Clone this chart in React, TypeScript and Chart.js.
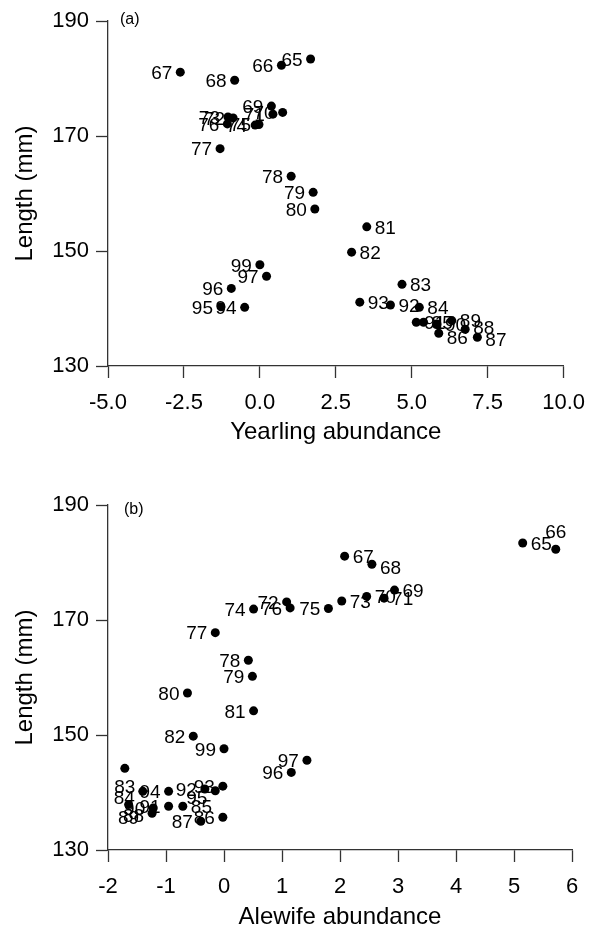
import React, { useEffect, useRef } from "react";
import { Chart, registerables } from "chart.js";

Chart.register(...registerables);

// ---- data (years 1965–1999, 1998 absent) ----
const years = [65, 66, 67, 68, 69, 70, 71, 72, 73, 74, 75, 76, 77, 78, 79, 80, 81, 82, 83, 84, 85, 86, 87, 88, 89, 90, 91, 92, 93, 94, 95, 96, 97, 99];

const yearlingAbundance = [1.67, 0.71, -2.62, -0.83, 0.38, 0.75, 0.43, -0.88, -1.05, -0.155, -0.03, -1.07, -1.31, 1.03, 1.755, 1.81, 3.52, 3.02, 4.68, 5.25, 5.39, 5.89, 7.16, 6.76, 6.32, 5.83, 5.15, 4.3, 3.29, -0.5, -1.28, -0.94, 0.22, 0.0];

const alewifeAbundance = [5.15, 5.72, 2.08, 2.55, 2.94, 2.46, 2.76, 1.08, 2.03, 0.51, 1.8, 1.14, -0.15, 0.42, 0.49, -0.63, 0.51, -0.53, -1.71, -1.4, -0.71, -0.02, -0.4, -1.24, -1.645, -1.22, -0.955, -0.33, -0.02, -0.955, -0.15, 1.16, 1.43, 0.0];

const lengthMm = [183.4, 182.3, 181.1, 179.7, 175.2, 174.1, 173.8, 173.15, 173.3, 171.9, 172.0, 172.1, 167.8, 163.0, 160.2, 157.3, 154.2, 149.8, 144.2, 140.2, 137.6, 135.7, 135.0, 136.4, 137.9, 137.3, 137.6, 140.6, 141.1, 140.2, 140.3, 143.5, 145.6, 147.6];

const yTicks = [130, 150, 170, 190];
const yTickLabels = ["130", "150", "170", "190"];
const xTicksA = [-5, -2.5, 0, 2.5, 5, 7.5, 10];
const xTickLabelsA = ["-5.0", "-2.5", "0.0", "2.5", "5.0", "7.5", "10.0"];
const xTicksB = [-2, -1, 0, 1, 2, 3, 4, 5, 6];
const xTickLabelsB = ["-2", "-1", "0", "1", "2", "3", "4", "5", "6"];

// ---- label placement (layout only) ----
const rightA = [81, 82, 83, 84, 85, 86, 87, 88, 89, 90, 91, 92, 93];
const dyA: Record<number, number> = { 86: 4, 87: 2, 88: -2 };
const rightB = [65, 67, 68, 69, 70, 71, 73, 85];
const belowB: Record<number, number> = { 83: 19, 89: 14 };
const aboveB: Record<number, number> = { 66: -17 };
const dyB: Record<number, number> = { 84: 6, 95: 6, 88: 2, 68: 3 };

const FONT = '"Liberation Sans", Arial, Helvetica, sans-serif';
const AXIS = "#333";

type Place = { side: "l" | "r" | "c"; dy: number };

function makeLabelPlugin(places: Place[], panel: string, pdx: number, pdy: number) {
  return {
    id: "pointLabels",
    afterDatasetsDraw(chart: any) {
      const ctx = chart.ctx;
      const meta = chart.getDatasetMeta(0);
      ctx.save();
      ctx.font = `19px ${FONT}`;
      ctx.fillStyle = "#000";
      ctx.textBaseline = "middle";
      meta.data.forEach((pt: any, i: number) => {
        const p = places[i];
        let x = pt.x;
        if (p.side === "l") {
          ctx.textAlign = "right";
          x -= 8;
        } else if (p.side === "r") {
          ctx.textAlign = "left";
          x += 8;
        } else {
          ctx.textAlign = "center";
        }
        ctx.fillText(String(years[i]), x, pt.y + p.dy);
      });
      ctx.font = `16px ${FONT}`;
      ctx.textAlign = "left";
      ctx.fillText(panel, chart.chartArea.left + pdx, chart.chartArea.top + pdy);
      ctx.restore();
    },
  };
}

function buildChart(
  canvas: HTMLCanvasElement,
  xs: number[],
  xTicks: number[],
  xTickLabels: string[],
  xTitle: string,
  topPad: number,
  xHeight: number,
  xTitlePad: number,
  places: Place[],
  panel: string,
  pdx: number,
  pdy: number
) {
  const pts = xs.map((x, i) => ({ x, y: lengthMm[i] }));
  return new Chart(canvas, {
    type: "scatter",
    data: {
      datasets: [
        {
          data: pts,
          pointRadius: 4.5,
          pointBackgroundColor: "#000",
          pointBorderWidth: 0,
          showLine: false,
        },
      ],
    },
    options: {
      responsive: false,
      animation: false,
      devicePixelRatio: 1,
      layout: { padding: { left: 0, right: 25, top: topPad, bottom: 0 } },
      plugins: { legend: { display: false }, tooltip: { enabled: false } },
      scales: {
        x: {
          type: "linear",
          min: xTicks[0],
          max: xTicks[xTicks.length - 1],
          afterBuildTicks: (s: any) => {
            s.ticks = xTicks.map((v) => ({ value: v }));
          },
          ticks: {
            callback: (_v: any, i: number) => xTickLabels[i],
            font: { size: 22, family: FONT },
            color: "#000",
            padding: 12,
            maxRotation: 0,
            autoSkip: false,
          },
          grid: { display: true, drawOnChartArea: false, drawTicks: true, tickLength: 12, tickWidth: 1.3, color: AXIS },
          border: { display: true, color: AXIS, width: 1.3 },
          title: { display: true, text: xTitle, font: { size: 24, family: FONT }, color: "#000", padding: { top: 0, bottom: xTitlePad } },
          afterFit: (s: any) => {
            s.height = xHeight;
          },
        },
        y: {
          type: "linear",
          min: 130,
          max: 190,
          afterBuildTicks: (s: any) => {
            s.ticks = yTicks.map((v) => ({ value: v }));
          },
          ticks: {
            callback: (_v: any, i: number) => yTickLabels[i],
            font: { size: 22, family: FONT },
            color: "#000",
            padding: 7,
            autoSkip: false,
          },
          grid: { display: true, drawOnChartArea: false, drawTicks: true, tickLength: 12, tickWidth: 1.3, color: AXIS },
          border: { display: true, color: AXIS, width: 1.3 },
          title: { display: true, text: "Length (mm)", font: { size: 24, family: FONT }, color: "#000", padding: { top: 10.5, bottom: 0 } },
          afterFit: (s: any) => {
            s.width = 108;
          },
        },
      },
    },
    plugins: [makeLabelPlugin(places, panel, pdx, pdy)],
  } as any);
}

export default function App() {
  const refA = useRef<HTMLCanvasElement>(null);
  const refB = useRef<HTMLCanvasElement>(null);

  useEffect(() => {
    const placesA: Place[] = years.map((y) => ({
      side: rightA.includes(y) ? "r" : "l",
      dy: 1.5 + (dyA[y] || 0),
    }));
    const placesB: Place[] = years.map((y) => {
      if (belowB[y] !== undefined) return { side: "c", dy: belowB[y] };
      if (aboveB[y] !== undefined) return { side: "c", dy: aboveB[y] };
      return { side: rightB.includes(y) ? "r" : "l", dy: 1.5 + (dyB[y] || 0) };
    });
    const a = buildChart(refA.current!, yearlingAbundance, xTicksA, xTickLabelsA, "Yearling abundance", 21, 100, 19, placesA, "(a)", 12, -1);
    const b = buildChart(refB.current!, alewifeAbundance, xTicksB, xTickLabelsB, "Alewife abundance", 39, 82, 0.6, placesB, "(b)", 16, 5);
    return () => {
      a.destroy();
      b.destroy();
    };
  }, []);

  return (
    <div style={{ position: "absolute", left: 0, top: 0, width: 597, height: 932, background: "#fff", overflow: "hidden" }}>
      <canvas ref={refA} width={597} height={466} style={{ position: "absolute", left: 0, top: 0, width: 597, height: 466 }} />
      <canvas ref={refB} width={597} height={466} style={{ position: "absolute", left: 0, top: 466, width: 597, height: 466 }} />
    </div>
  );
}
